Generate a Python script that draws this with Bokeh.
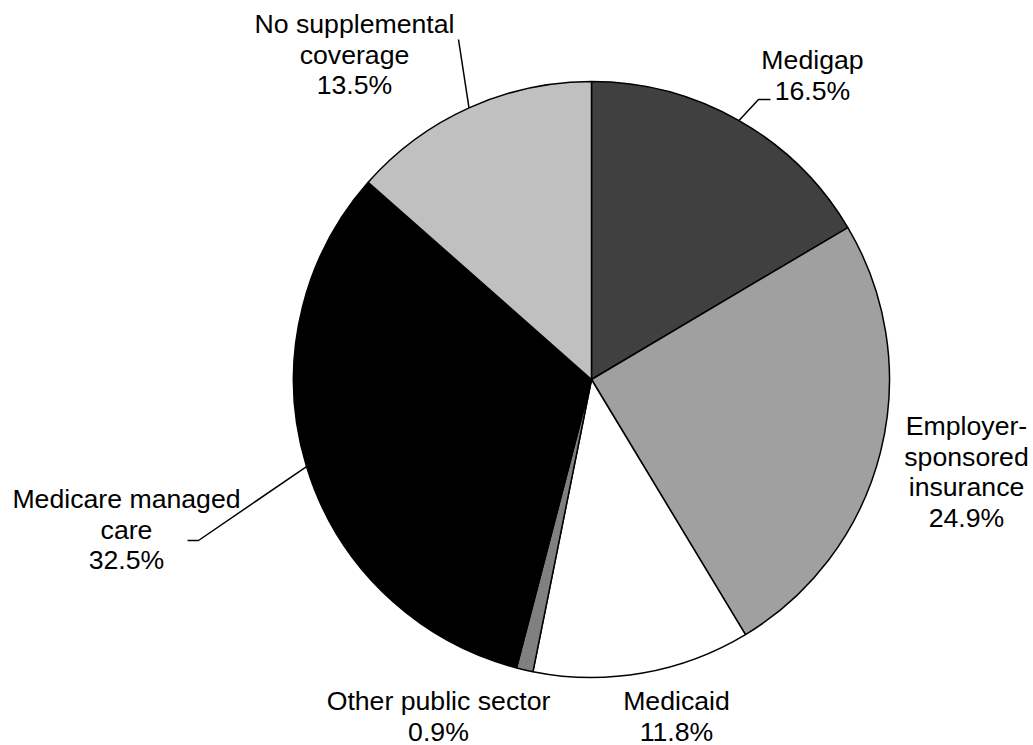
import math
from bokeh.plotting import figure
from bokeh.models import Range1d, ColumnDataSource
from bokeh.core.properties import value
from bokeh.embed import file_html
from bokeh.resources import INLINE

# ---- data ----
categories = ["Medigap", "Employer-sponsored insurance", "Medicaid",
              "Other public sector", "Medicare managed care", "No supplemental coverage"]
shares = [16.5, 24.9, 11.8, 0.9, 32.5, 13.5]
colors = ["#404040", "#a0a0a0", "#ffffff", "#808080", "#000000", "#c0c0c0"]
label_lines = [["Medigap", "16.5%"],
               ["Employer-", "sponsored", "insurance", "24.9%"],
               ["Medicaid", "11.8%"],
               ["Other public sector", "0.9%"],
               ["Medicare managed", "care", "32.5%"],
               ["No supplemental", "coverage", "13.5%"]]

# ---- layout (pixel space, y measured from top) ----
W, H = 1033, 745
CX, CY, R = 591, 379, 298
label_pos = [(812, 69), (966, 435), (676, 710), (438, 710), (126, 508), (354, 33)]  # center x, first baseline
LINE_H = 30.5
MID_OFF = 9.5  # baseline -> vertical middle of glyphs
leader_elbows = {0: [(758, 99), (770, 99)],
                 4: [(198, 540), (187, 540)],
                 5: [(458, 39)]}

def fy(y):
    return H - y

total = sum(shares)
starts, ends, mids = [], [], []
cum = 0.0
for s in shares:
    a0 = cum / total
    cum += s
    a1 = cum / total
    starts.append(math.pi / 2 - 2 * math.pi * a0)
    ends.append(math.pi / 2 - 2 * math.pi * a1)
    mids.append((a0 + a1) / 2)

p = figure(width=W, height=H, output_backend="svg", toolbar_location=None,
           x_range=Range1d(0, W), y_range=Range1d(0, H), min_border=0)
p.axis.visible = False
p.grid.visible = False
p.outline_line_color = None
p.background_fill_color = "white"
p.border_fill_color = "white"

src = ColumnDataSource(dict(x=[CX] * len(shares), y=[fy(CY)] * len(shares),
                            start=starts, end=ends, color=colors, cat=categories))
p.wedge(x="x", y="y", radius=R, start_angle="start", end_angle="end",
        direction="clock", fill_color="color", line_color="black",
        line_width=1.5, source=src)

# leader lines
for i, pts in leader_elbows.items():
    ang = 2 * math.pi * mids[i]
    ex = CX + R * math.sin(ang)
    ey = CY - R * math.cos(ang)
    xs = [ex] + [q[0] for q in pts]
    ys = [fy(ey)] + [fy(q[1]) for q in pts]
    p.line(xs, ys, line_color="black", line_width=1.5)

# labels
tx, ty, tt = [], [], []
for (x0, y0), lines in zip(label_pos, label_lines):
    for k, t in enumerate(lines):
        tx.append(x0)
        ty.append(fy(y0 + k * LINE_H - MID_OFF))
        tt.append(t)
p.text(x=tx, y=ty, text=tt, text_align="center", text_baseline="middle",
       text_font=value("Liberation Sans"), text_font_size="20pt", text_color="black")

open("out.html", "w").write(file_html(p, INLINE))
